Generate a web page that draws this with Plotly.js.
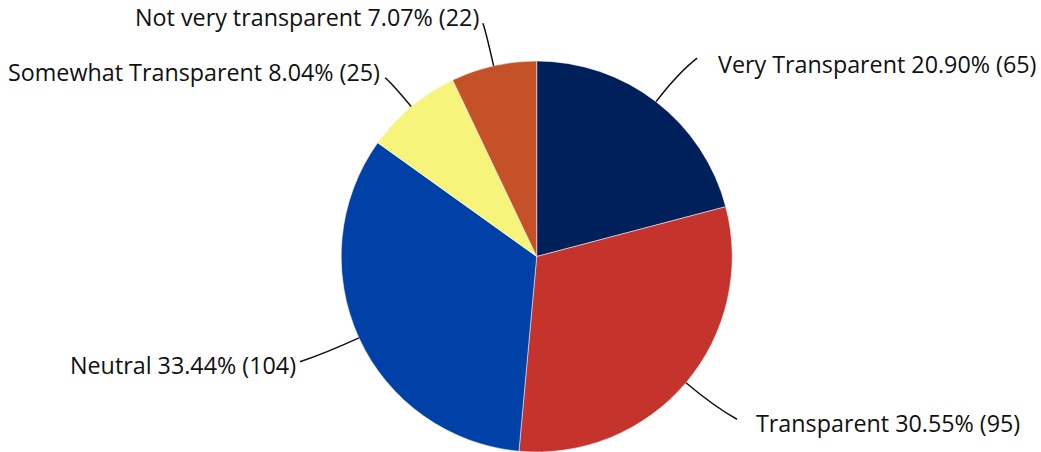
<!DOCTYPE html>
<html>
<head>
<meta charset="utf-8">
<script src="https://cdn.plot.ly/plotly-3.0.1.min.js"></script>
<style>html,body{margin:0;padding:0;background:#fff;}#chart{width:1041px;height:452px;}</style>
</head>
<body>
<div id="chart"></div>
<script>
// ---- data ----
const categories = ["Very Transparent", "Transparent", "Neutral", "Somewhat Transparent", "Not very transparent"];
const counts = [65, 95, 104, 25, 22];
const colors = ["#00205b", "#c4332c", "#0041a8", "#f7f47c", "#c45128"];

// ---- layout config (pixels) ----
const W = 1041, H = 452;
const cx = 536.7, cy = 256.5, R = 195.5;
const labelRadius = 250.5;
const ctrlRadius = 232;
// per-label nudges relative to the label-radius point
const textNudge = [[26, 6], [26, 5], [-11, 4], [6, 7.5], [0, 5]];
const connNudge = [[7.5, 0], [9, 1], [-9, 1], [9, 13.6], [1.4, 11]];

const total = counts.reduce((a, b) => a + b, 0);
const px = x => x / W, py = y => 1 - y / H;

const annotations = [], shapes = [];
let cum = 0;
counts.forEach((v, i) => {
  const mid = (cum + v / 2) / total * 2 * Math.PI;
  cum += v;
  const dx = Math.sin(mid), dy = -Math.cos(mid);
  const right = dx >= 0;
  const p0 = [cx + R * dx, cy + R * dy];
  const base = [cx + labelRadius * dx, cy + labelRadius * dy];
  const ctrl = [cx + ctrlRadius * dx, cy + ctrlRadius * dy];
  const end = [base[0] + connNudge[i][0], base[1] + connNudge[i][1]];
  const tp = [base[0] + textNudge[i][0], base[1] + textNudge[i][1]];
  shapes.push({
    type: "path", xref: "paper", yref: "paper",
    path: `M ${px(p0[0])} ${py(p0[1])} Q ${px(ctrl[0])} ${py(ctrl[1])} ${px(end[0])} ${py(end[1])}`,
    line: { color: "#111111", width: 1.5 }
  });
  const pct = (v / total * 100).toFixed(2);
  annotations.push({
    xref: "paper", yref: "paper", x: px(tp[0]), y: py(tp[1]),
    xanchor: right ? "left" : "right", yanchor: "middle",
    text: `${categories[i]} ${pct}% (${v})`, showarrow: false,
    font: { family: "Open Sans, sans-serif", size: 23.3, color: "#111111" }
  });
});

const trace = {
  type: "pie",
  labels: categories,
  values: counts,
  sort: false,
  direction: "clockwise",
  rotation: 0,
  textinfo: "none",
  hoverinfo: "label+value+percent",
  marker: { colors: colors, line: { color: "#ffffff", width: 0.5 } },
  domain: { x: [px(cx - R), px(cx + R)], y: [py(cy + R), py(cy - R)] },
  showlegend: false
};

Plotly.newPlot("chart", [trace], {
  width: W, height: H,
  margin: { l: 0, r: 0, t: 0, b: 0 },
  paper_bgcolor: "#ffffff",
  showlegend: false,
  annotations: annotations,
  shapes: shapes
}, { displayModeBar: false, staticPlot: true });
</script>
</body>
</html>
